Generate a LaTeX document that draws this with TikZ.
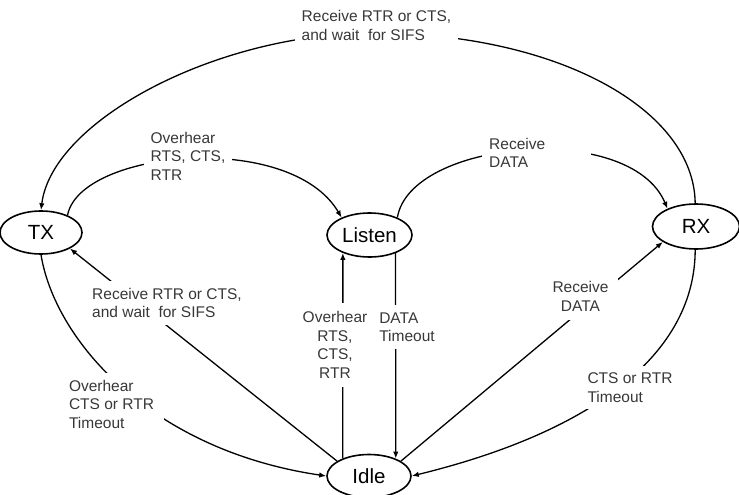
\documentclass[tikz,border=0pt]{standalone}
\usepackage{fontspec}
\setmainfont{Liberation Sans}
\usetikzlibrary{shapes.geometric,arrows.meta}
\begin{document}
\begin{tikzpicture}[x=1pt,y=-1pt,
  state/.style={ellipse,draw=black,line width=1.6pt,inner sep=0pt,font=\fontsize{20.5}{24}\selectfont},
  conn/.style={line width=1.3pt,-{Latex[length=7pt,width=5.5pt]}},
  lbl/.style={fill=white,inner sep=7pt,text=black!78,font=\fontsize{15.5}{18.5}\selectfont,align=left},
]
\useasboundingbox (0,0) rectangle (739,495);
% states
\node[state,minimum width=82pt,minimum height=43pt] (TX) at (41,232.5) {TX};
\node[state,minimum width=85pt,minimum height=44pt] (Listen) at (369.5,235) {Listen};
\node[state,minimum width=87pt,minimum height=45pt] (RX) at (696,226.5) {RX};
\node[state,minimum width=84pt,minimum height=43pt] (Idle) at (369,476) {Idle};
% connectors
\draw[conn] (RX.92) .. controls (694,110) and (560,35) .. (380,33) .. controls (220,31) and (52,120) .. (TX.90);
\draw[conn] (TX.33) .. controls (80,150) and (290,130) .. (Listen.148);
\draw[conn] (Listen.32) .. controls (410,140) and (630,120) .. (RX.148);
\draw[conn] (Idle.155) -- (TX.-29);
\draw[conn] (Idle.146) -- (Listen.-146);
\draw[conn] (Listen.-35) -- (Idle.33);
\draw[conn] (Idle.25) -- (RX.-155);
\draw[conn] (RX.-92) .. controls (695,350) and (600,430) .. (Idle.east);
\draw[conn] (TX.-90) .. controls (55,340) and (150,450) .. (Idle.west);
% labels
\node[lbl] (l1) at (376.5,25.5) {Receive RTR or CTS,\\and wait\ \ for SIFS};
\node[lbl] (l2) at (188,156) {Overhear\\RTS, CTS,\\RTR};
\node[lbl,anchor=west,text width=95pt] (l3) at (482,153) {Receive\\DATA};
\node[lbl] (l4) at (167,303) {Receive RTR or CTS,\\and wait\ \ for SIFS};
\node[lbl,align=center,inner sep=9pt] (l5) at (580.5,296.5) {Receive\\DATA};
\node[lbl,align=center,inner ysep=9pt] (l6) at (335,345) {Overhear\\RTS,\\CTS,\\RTR};
\node[lbl] (l7) at (407,327) {DATA\\Timeout};
\node[lbl] (l8) at (630,387.5) {CTS or RTR\\Timeout};
\node[lbl,inner xsep=10pt] (l9) at (111.5,404) {Overhear\\CTS or RTR\\Timeout};
\end{tikzpicture}
\end{document}
